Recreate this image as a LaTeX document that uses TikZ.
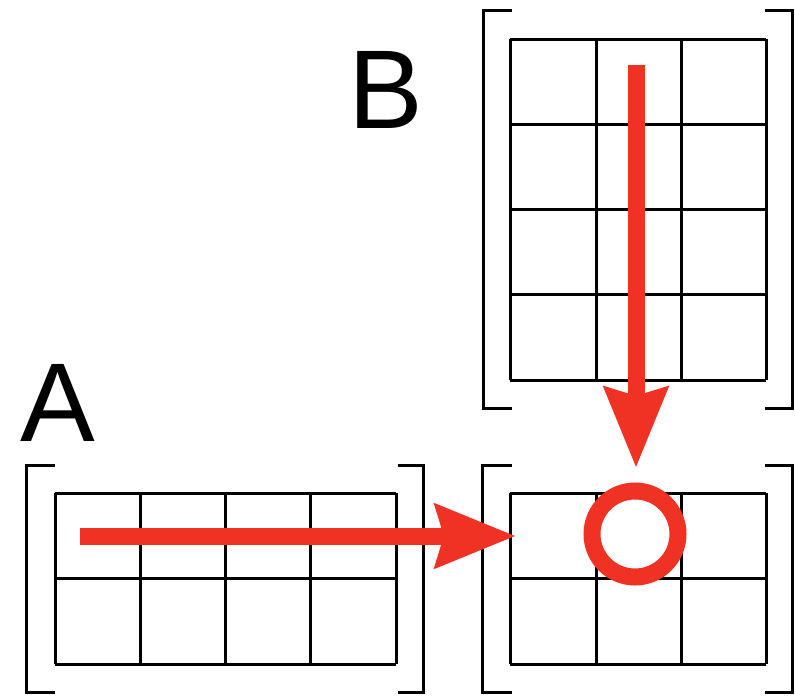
\documentclass[tikz,border=0pt]{standalone}
\usepackage{fontspec}
\setmainfont{Liberation Sans}
\usetikzlibrary{arrows.meta}
\definecolor{arrred}{RGB}{240,50,36}
\tikzset{
  gridline/.style={line width=3pt, black},
  bracket/.style={line width=3pt, black},
  redarrow/.style={line width=17pt, arrred, -{Stealth[length=80pt 0, width=62pt 0, inset=8pt]}},
  label/.style={font=\fontsize{112}{112}\selectfont, inner sep=0pt},
}
\begin{document}
\begin{tikzpicture}[x=1pt,y=-1pt]
\useasboundingbox (0,0) rectangle (795,699);
% Matrix A
\foreach \x in {55,140,225,310,396} \draw[gridline] (\x,493) -- (\x,664);
\foreach \y in {493,578,664} \draw[gridline] (55,\y) -- (396,\y);
\draw[bracket] (55,465) -- (26,465) -- (26,692) -- (55,692);
\draw[bracket] (398,465) -- (423,465) -- (423,692) -- (398,692);
% Matrix B
\foreach \x in {510,596,681,766} \draw[gridline] (\x,39) -- (\x,380);
\foreach \y in {39,124,209,294,380} \draw[gridline] (510,\y) -- (766,\y);
\draw[bracket] (512,10) -- (483,10) -- (483,408) -- (512,408);
\draw[bracket] (765,10) -- (792,10) -- (792,408) -- (765,408);
% Result matrix
\foreach \x in {510,596,681,766} \draw[gridline] (\x,493) -- (\x,664);
\foreach \y in {493,578,664} \draw[gridline] (510,\y) -- (766,\y);
\draw[bracket] (512,465) -- (482,465) -- (482,692) -- (512,692);
\draw[bracket] (765,465) -- (792,465) -- (792,692) -- (765,692);
% Labels
\node[label] (la) at (58,403) {A};
\node[label] (lb) at (386,90) {B};
% Arrows and circle
\coordinate (astart) at (80,536);
\coordinate (aend) at (516,536);
\coordinate (bstart) at (636,65);
\coordinate (bend) at (636,468);
\draw[redarrow] (astart) -- (aend);
\draw[redarrow] (bstart) -- (bend);
\node[draw=arrred, line width=17pt, circle, minimum size=86pt, inner sep=0pt] (res) at (635,534) {};
\end{tikzpicture}
\end{document}
